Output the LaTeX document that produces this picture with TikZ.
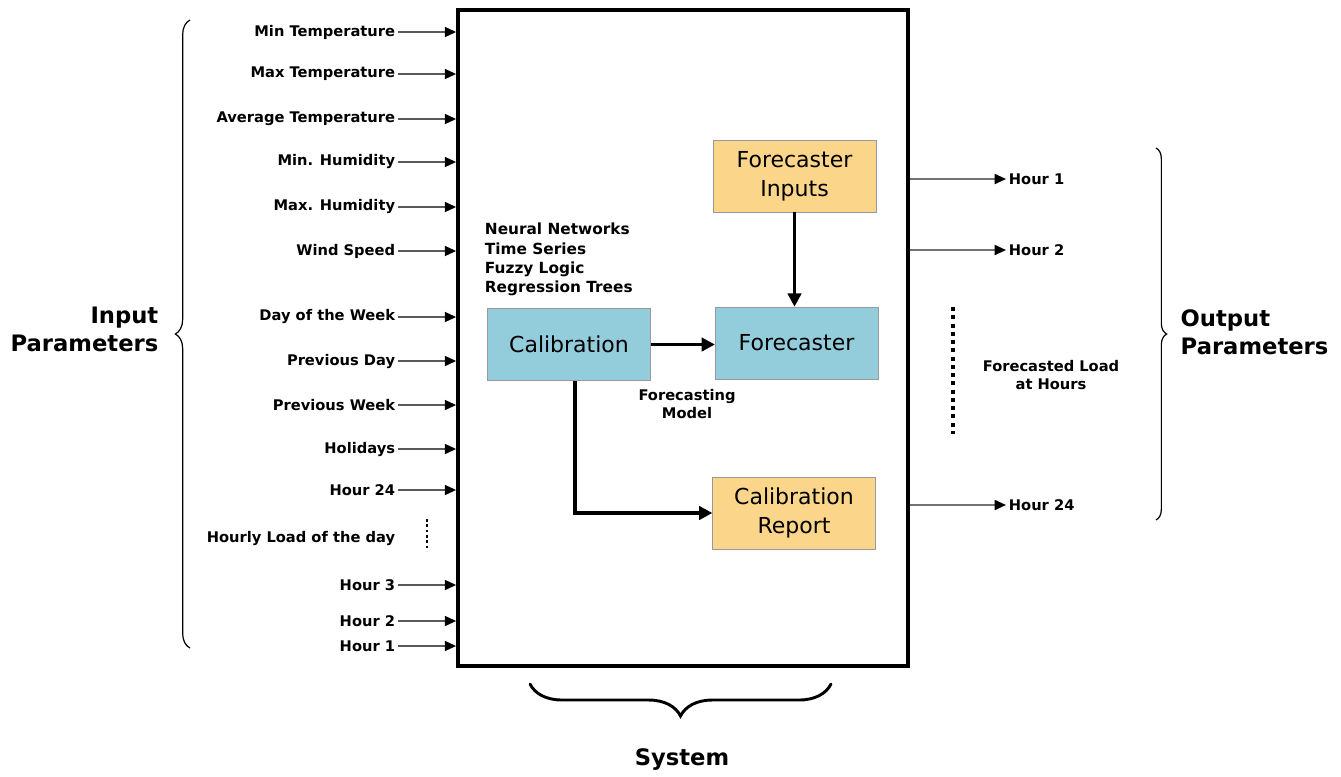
\documentclass[tikz,border=0pt]{standalone}
\usepackage{fontspec}
\setmainfont{DejaVu Sans}
\usetikzlibrary{arrows.meta,fit,decorations.pathreplacing}
\definecolor{boxblue}{HTML}{93CDDC}
\definecolor{boxorange}{HTML}{FBD58A}
\begin{document}
\begin{tikzpicture}
[
    x=0.75pt, y=-0.75pt,
    lbl/.style={font=\bfseries\fontsize{11}{13}\selectfont, inner sep=2pt},
    big/.style={font=\bfseries\fontsize{17}{21}\selectfont},
    block/.style={draw=black!40, minimum width=122pt, minimum height=54pt, align=center, font=\fontsize{16.5}{22}\selectfont},
    inarrow/.style={draw=black!65, line width=1.3pt, -{Triangle[length=8.5pt,width=7.5pt,color=black]}},
    flow/.style={line width=2.8pt, -{Triangle[length=10pt,width=10pt]}},
    brace/.style={decorate, decoration={brace, amplitude=#1}},
]
\useasboundingbox (0,0) rectangle (1341,776);
\node[fit={(458,10) (908,666)}, inner sep=0pt, draw, line width=2.8pt] (sys) {};
\foreach \y/\t [count=\i] in {32/Min Temperature, 74/Max Temperature, 119/Average Temperature,
    162/Min. Humidity, 207/Max. Humidity, 251/Wind Speed, 317/Day of the Week,
    361/Previous Day, 405/Previous Week, 449/Holidays, 490/Hour 24, 585/Hour 3,
    621/Hour 2, 646/Hour 1}
{
    \node[lbl, anchor=east] (in\i) at (398,\y) {\t};
    \draw[inarrow] (in\i.east) -- (in\i.east -| sys.west);
}
\node[lbl, anchor=east] (hourly) at (398,538) {Hourly Load of the day};
\draw[line width=2.2pt, dash pattern=on 2pt off 2pt] (427,519) -- (427,551);
\draw[brace=11pt, line width=0.9pt] (190,648) -- (190,20);
\node[big, anchor=east, align=right] (inpar) at (163,329) {Input\\Parameters};
\node[block, fill=boxorange] (fin) at (794.5,176) {Forecaster\\Inputs};
\node[block, fill=boxblue] (cal) at (569,344.5) {Calibration};
\node[block, fill=boxblue] (fc) at (796.5,343) {Forecaster};
\node[block, fill=boxorange] (rep) at (794,513) {Calibration\\Report};
\node[lbl, anchor=south west, align=left, font=\bfseries\fontsize{11.5}{14.5}\selectfont] (meth) at (482,299)
    {Neural Networks\\Time Series\\Fuzzy Logic\\Regression Trees};
\node[lbl, align=center] (fmodel) at (687,404) {Forecasting\\Model};
\draw[flow] (fin.south) -- (fin.south |- fc.north);
\draw[flow] (cal.east) -- (cal.east -| fc.west);
\draw[flow] ([xshift=4.5pt]cal.south) |- (rep.west);
\foreach \y/\t [count=\i] in {179/Hour 1, 250/Hour 2, 505/Hour 24}
{
    \node[lbl, anchor=west] (out\i) at (1006,\y) {\t};
    \draw[inarrow, draw=black!55] (out\i.west -| sys.east) -- (out\i.west);
}
\draw[line width=3pt, dash pattern=on 3pt off 3.2pt] (953,307) -- (953,434);
\node[lbl, align=center] (fload) at (1051,375) {Forecasted Load\\at Hours};
\draw[brace=8pt, line width=0.9pt] (1156,148) -- (1156,520);
\node[big, anchor=west, align=left] (outpar) at (1176,332) {Output\\Parameters};
\draw[brace=24pt, line width=2.2pt, line cap=round] (831,684) -- (530,684);
\node[big] (sysl) at (682,760) {System};
\end{tikzpicture}
\end{document}
